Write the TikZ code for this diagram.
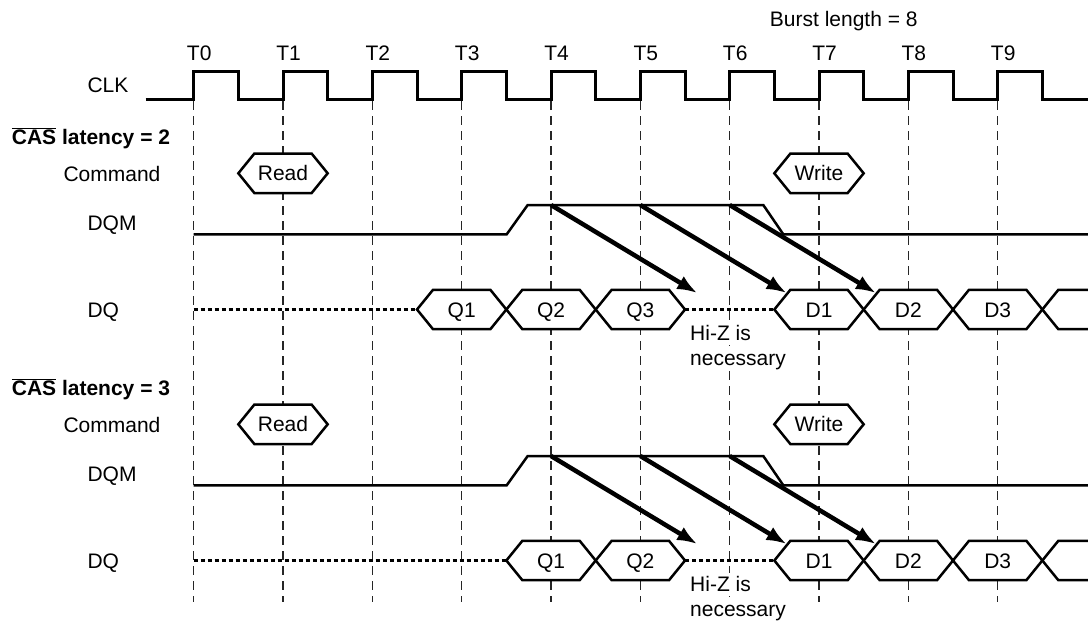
\documentclass[tikz,border=0pt]{standalone}
\usepackage{fontspec}
\setmainfont{Liberation Sans}
\usetikzlibrary{arrows.meta}

\tikzstyle{clkline}=[
    line width=3pt,
    line join=miter
]
\tikzstyle{guide}=[
    line width=1.1pt,
    dash pattern=on 9pt off 6pt,
    draw=black!85
]
\tikzstyle{wave}=[
    line width=2.5pt,
    line join=miter
]
\tikzstyle{hexline}=[
    draw=black,
    fill=white,
    line width=2.5pt,
    line join=miter
]
\tikzstyle{hiz}=[
    line width=2.5pt,
    dash pattern=on 4pt off 3pt
]
\tikzstyle{mask}=[
    ->,
    line width=4.5pt
]
\tikzstyle{sig}=[
    anchor=west,
    inner sep=0pt
]
\tikzstyle{note}=[
    anchor=base west,
    inner sep=3pt,
    fill=white
]

% data cell: name, x, y, text
\newcommand{\hexcell}[4]{%
    \path[hexline] ({#2-44.67},#3) -- ({#2-28.67},{#3-19.7}) -- ({#2+28.67},{#3-19.7})
        -- ({#2+44.67},#3) -- ({#2+28.67},{#3+19.7}) -- ({#2-28.67},{#3+19.7}) -- cycle;
    \coordinate (#1-l) at ({#2-44.67},#3);
    \coordinate (#1-r) at ({#2+44.67},#3);
    \node (#1) at (#2,#3) {#4};
}

\begin{document}
\begin{tikzpicture}[x=1pt,y=-1pt,>={Latex[length=20pt,width=15pt]},
    font=\fontsize{21}{25}\selectfont,text height=16pt,text depth=1pt]
    \useasboundingbox (0,0) rectangle (1088,622);

    % CLOCK
    \node (burst) at (843.8,19) {Burst length = 8};
    \node[sig] (clk) at (87.3,85) {CLK};
    \foreach \i in {0,...,9} {
        \pgfmathsetmacro\tx{193.7+89.33*\i}
        \node (t\i) at (\tx+5.5,53.3) {T\i};
        \coordinate (g\i) at (\tx,71);
        \draw[guide] (g\i) -- ++(0,531);
    }
    \draw[clkline] (145.7,99.3) -- (193.7,99.3)
        \foreach \i in {0,...,9} { -- ++(0,-28.3) -- ++(44.67,0) -- ++(0,28.3) -- ++(44.67,0) }
        -- ++(2,0);

    % LATENCY 2 (a) AND 3 (b)
    \foreach \s/\lat/\dy/\qfirst in {a/2/0/3, b/3/251/4} {
    \begin{scope}[yshift=-\dy pt]
        \node[sig,font=\fontsize{21}{25}\selectfont\bfseries] (cas\s) at (11.7,136.7)
            {$\overline{\mbox{CAS}}$ latency = \lat};
        \node[sig] (cmd\s) at (63.3,173.7) {Command};
        \node[sig] (dqm\s) at (87.3,223.3) {DQM};
        \node[sig] (dq\s) at (87.3,309.5) {DQ};

        % command
        \hexcell{rd\s}{283.0}{173.3}{Read}
        \hexcell{wr\s}{819.0}{173.3}{Write}

        % DQM
        \draw[wave] (193.7,234.3) -- (506.7,234.3) -- (527.7,205) -- (763.3,205)
            -- (783.3,234.3) -- (1090,234.3);

        % DQ
        \foreach \j in {\qfirst,...,5} {
            \pgfmathtruncatemacro\n{\j-\qfirst+1}
            \pgfmathsetmacro\tx{193.7+89.33*\j}
            \hexcell{q\n\s}{\tx}{309.5}{Q\n}
        }
        \foreach \j/\txt in {1/D1,2/D2,3/D3,4/{}} {
            \pgfmathsetmacro\tx{193.7+89.33*(\j+6)}
            \hexcell{d\j\s}{\tx}{309.5}{\txt}
        }
        \coordinate (z\s) at (193.7,309.5);
        \pgfmathtruncatemacro\nq{6-\qfirst}
        \draw[hiz] (z\s) -- (q1\s-l);
        \draw[hiz] (q\nq\s-r) -- (d1\s-l);

        \node[note] (hiz\s) at (687,340.8) {Hi-Z is};
        \node[note] (nec\s) at (687,365.3) {necessary};

        % masking arrows
        \foreach \k in {4,5,6} {
            \coordinate (ms\k\s) at ({193.7+89.33*\k},205);
            \coordinate (me\k\s) at ({193.7+89.33*(\k+2)-32.5},293);
            \draw[mask] (ms\k\s) -- (me\k\s);
        }
    \end{scope}
    }
\end{tikzpicture}
\end{document}
